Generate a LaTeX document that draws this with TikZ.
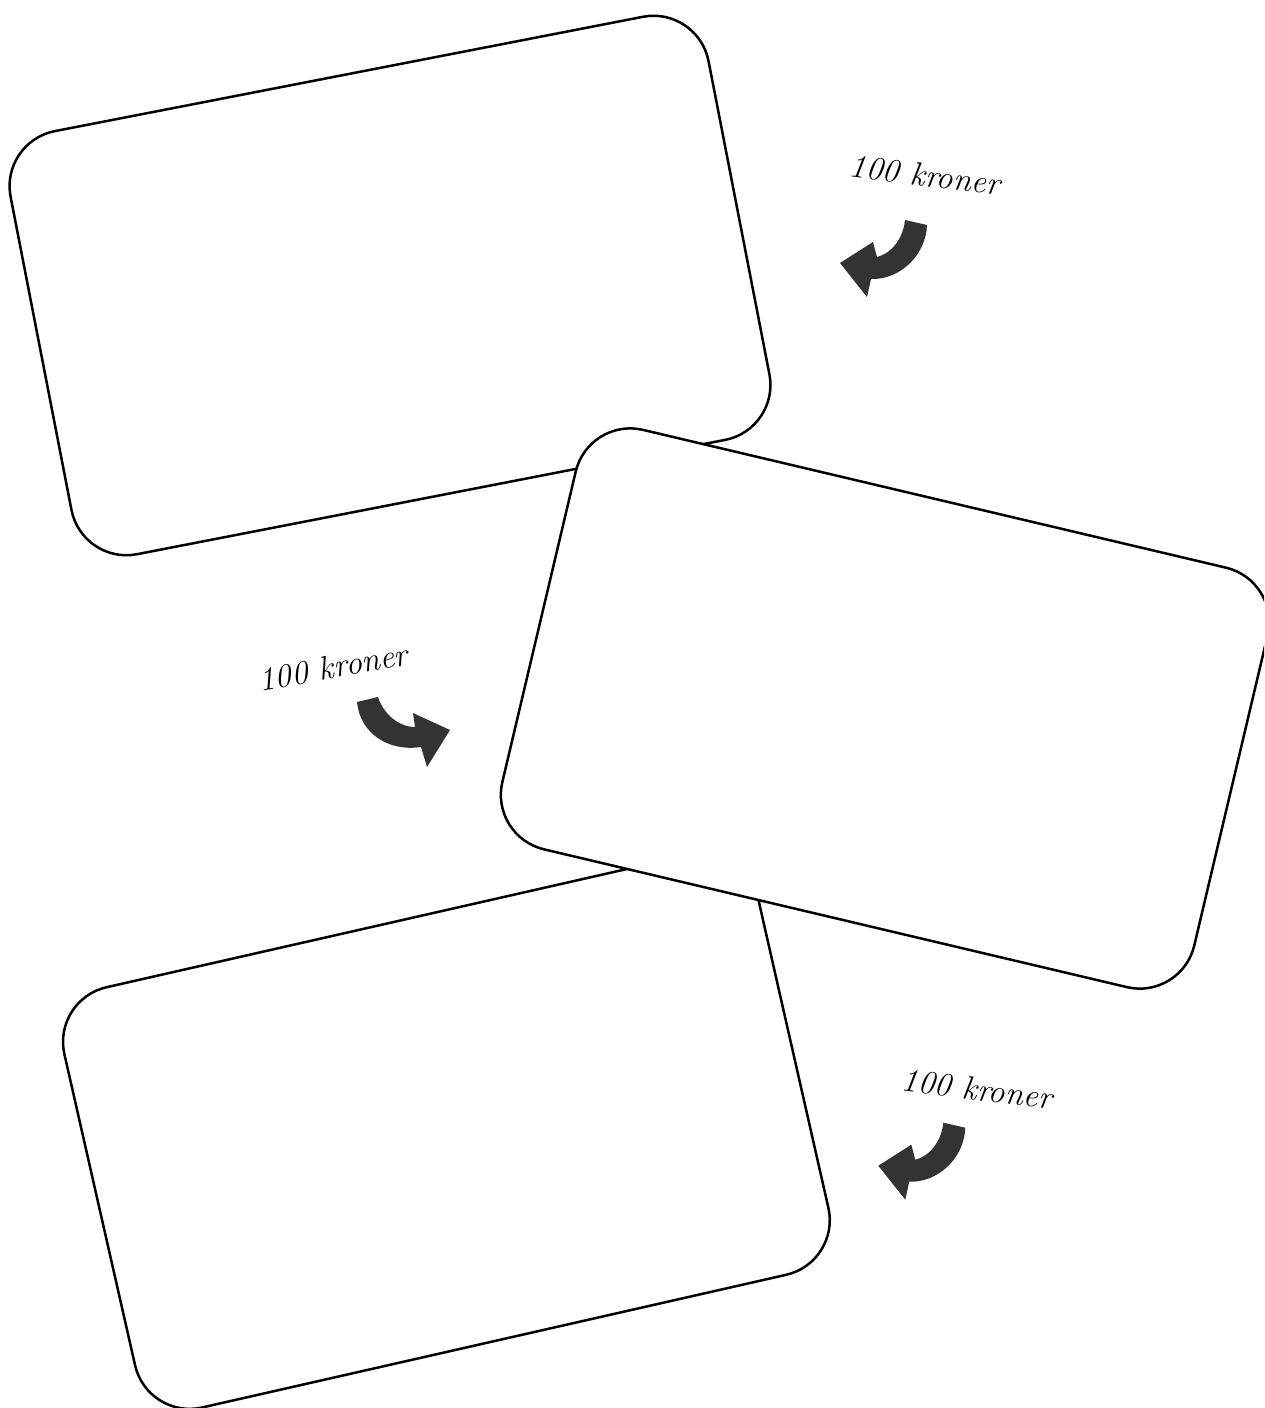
\documentclass[tikz,border=0pt]{standalone}
\definecolor{arrowgray}{HTML}{333333}
\begin{document}
\begin{tikzpicture}[x=1pt,y=-1pt,
  card/.style={rectangle, draw=black, fill=white, line width=2.5pt, rounded corners=56pt,
    minimum width=711pt, minimum height=431pt, inner sep=0pt},
  price/.style={font=\fontsize{33}{40}\selectfont\itshape, inner sep=0pt},
  bentarrow/.style={fill=arrowgray, draw=none}]
\useasboundingbox (0,0) rectangle (1264,1408);
\clip (0,0) rectangle (1264,1408);
% cards
\node[card, rotate=11] (cardA) at (390,285.5) {};
\node[card, rotate=12.8] (cardC) at (446.4,1131) {};
\node[card, rotate=-13.3] (cardB) at (885,708.5) {};
% labels
\node[price, rotate=-7] (labelA) at (925,175) {100 kroner};
\node[price, rotate=10] (labelB) at (333,667) {100 kroner};
\node[price, rotate=-7] (labelC) at (977,1089) {100 kroner};
% arrow A (top right, bending to the left)
\fill[bentarrow] (905,220) -- (927,225) .. controls (926,255) and (900,280) .. (871,279)
  -- (867,297) -- (840,263) -- (873,242) -- (877,257)
  .. controls (890,254) and (903,240) .. (905,220) -- cycle;
% arrow B (middle, bending to the right)
\fill[bentarrow] (357,702) -- (378,697) .. controls (383,713) and (398,727) .. (415,727)
  -- (413,713) -- (450,730) -- (427,767) -- (421,747)
  .. controls (388,752) and (360,733) .. (357,702) -- cycle;
% arrow C (bottom right, bending to the left)
\begin{scope}[shift={(38.3,902.7)}]
\fill[bentarrow] (905,220) -- (927,225) .. controls (926,255) and (900,280) .. (871,279)
  -- (867,297) -- (840,263) -- (873,242) -- (877,257)
  .. controls (890,254) and (903,240) .. (905,220) -- cycle;
\end{scope}
\end{tikzpicture}
\end{document}
